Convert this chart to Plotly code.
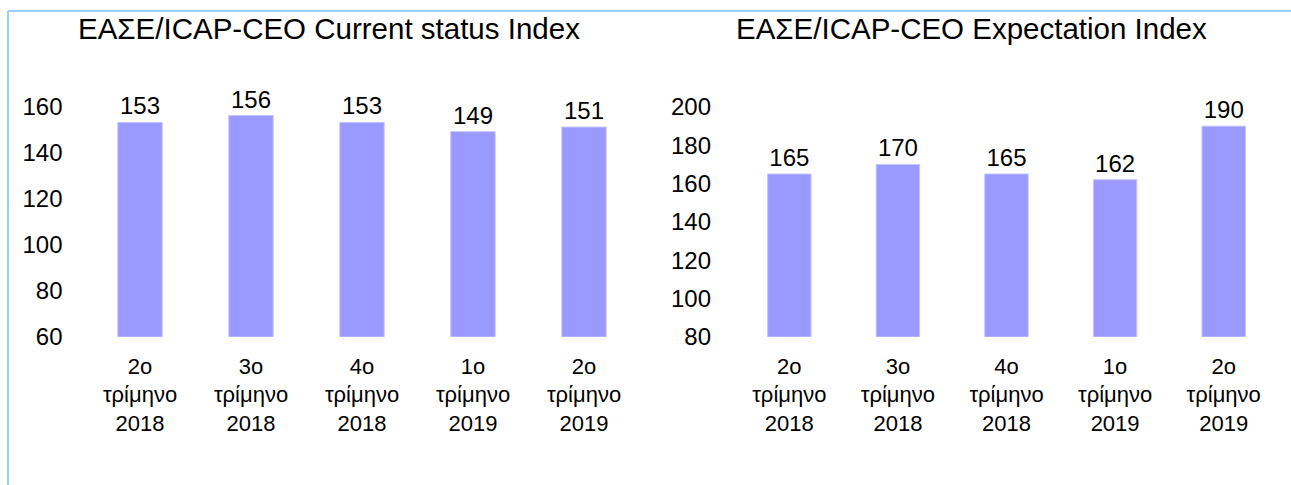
import plotly.graph_objects as go

categories = [
    "2o<br>τρίμηνο<br>2018",
    "3o<br>τρίμηνο<br>2018",
    "4o<br>τρίμηνο<br>2018",
    "1o<br>τρίμηνο<br>2019",
    "2o<br>τρίμηνο<br>2019",
]
current_status = [153, 156, 153, 149, 151]
expectation = [165, 170, 165, 162, 190]
title_left = "ΕΑΣΕ/ICAP-CEO Current status Index"
title_right = "ΕΑΣΕ/ICAP-CEO Expectation Index"
left_ticks = [60, 80, 100, 120, 140, 160]
right_ticks = [80, 100, 120, 140, 160, 180, 200]

W, H = 1291, 485
FONT = "Liberation Sans, Arial, sans-serif"
BAR = "#9999ff"
EDGE = "#c4c4ff"


def px(x):
    return x / W


def py(y):
    return 1 - y / H


fig = go.Figure()
fig.add_trace(go.Bar(
    x=categories, y=current_status, xaxis="x", yaxis="y",
    text=current_status, textposition="outside",
    textfont=dict(size=24, color="black", family=FONT),
    marker=dict(color=BAR, line=dict(color=EDGE, width=1)),
    width=0.4, hoverinfo="skip",
))
fig.add_trace(go.Bar(
    x=categories, y=expectation, xaxis="x2", yaxis="y2",
    text=expectation, textposition="outside",
    textfont=dict(size=24, color="black", family=FONT),
    marker=dict(color=BAR, line=dict(color=EDGE, width=1)),
    width=0.4, hoverinfo="skip",
))

axis_font = dict(size=24, color="black", family=FONT)
xcommon = dict(showgrid=False, zeroline=False, showline=False, ticks="",
               automargin=False,
               tickfont=dict(size=22, color="black", family=FONT),
               ticklabelstandoff=14, fixedrange=True)
ycommon = dict(showgrid=False, zeroline=False, showline=False, ticks="",
               automargin=False,
               tickfont=axis_font, fixedrange=True)

border = dict(color="#99ccff", width=2)
fig.update_layout(
    width=W, height=H,
    margin=dict(l=0, r=0, t=0, b=0, pad=0, autoexpand=False),
    paper_bgcolor="white", plot_bgcolor="white",
    showlegend=False,
    font=dict(family=FONT, color="black"),
    xaxis=dict(domain=[px(84.5), px(639.5)], anchor="y", **xcommon),
    yaxis=dict(domain=[py(336.8), py(336.8 - 115 * 2.305)], range=[60, 175],
               tickvals=left_ticks, anchor="x", ticklabelstandoff=21, **ycommon),
    xaxis2=dict(domain=[px(735), px(1278)], anchor="y2", **xcommon),
    yaxis2=dict(domain=[py(336.8), py(336.8 - 135 * 1.915)], range=[80, 215],
                tickvals=right_ticks, anchor="x2", ticklabelstandoff=23, **ycommon),
    shapes=[
        dict(type="line", xref="paper", yref="paper",
             x0=px(8), x1=px(8), y0=py(11), y1=0, line=border, layer="below"),
        dict(type="line", xref="paper", yref="paper",
             x0=px(8), x1=1, y0=py(11), y1=py(11), line=border, layer="below"),
    ],
    annotations=[
        dict(text=title_left, x=px(329), y=py(28), xref="paper", yref="paper",
             showarrow=False, xanchor="center", yanchor="middle",
             font=dict(size=29.5, color="black", family=FONT)),
        dict(text=title_right, x=px(971.5), y=py(28), xref="paper", yref="paper",
             showarrow=False, xanchor="center", yanchor="middle",
             font=dict(size=29.5, color="black", family=FONT)),
    ],
)

fig.write_html(
    "out.html",
    config={"displayModeBar": False},
    post_script=(
        "document.documentElement.style.margin='0';"
        "document.body.style.margin='0';"
        "document.body.style.overflow='hidden';"
        "var d=document.getElementById('{plot_id}');"
        "d.style.position='fixed';d.style.left='0px';d.style.top='0px';"
    ),
)
